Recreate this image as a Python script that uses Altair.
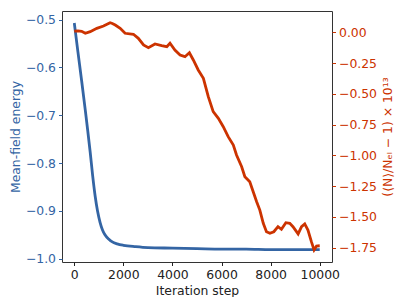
import altair as alt
import pandas as pd

# Mean-field energy (left axis)
steps_e = [0, 150, 300, 450, 550, 650, 750, 850, 950, 1050, 1150, 1250, 1400,
           1550, 1750, 2000, 2500, 3000, 4000, 5000, 6000, 7000, 8000, 9000, 10000]
energy = [-0.507, -0.568, -0.628, -0.690, -0.733, -0.778, -0.827, -0.869, -0.901,
          -0.924, -0.940, -0.950, -0.959, -0.965, -0.969, -0.972, -0.975, -0.977,
          -0.978, -0.979, -0.980, -0.980, -0.981, -0.981, -0.981]

# Particle-number deviation (right axis)
steps_n = [0, 150, 300, 450, 650, 920, 1190, 1460, 1550, 1670, 1870, 2070, 2410,
           2610, 2820, 3020, 3290, 3560, 3770, 3900, 4100, 4310, 4510, 4690, 4850,
           5050, 5260, 5460, 5660, 5870, 6070, 6270, 6480, 6610, 6820, 6950, 7150,
           7290, 7430, 7560, 7700, 7830, 7970, 8130, 8300, 8440, 8620, 8780, 8910,
           9120, 9260, 9390, 9520, 9660, 9770, 9870, 10000]
deviation = [0.010, 0.012, 0.008, -0.008, 0.005, 0.032, 0.051, 0.078, 0.072, 0.059,
             0.032, -0.008, -0.016, -0.049, -0.103, -0.125, -0.095, -0.109, -0.117,
             -0.089, -0.144, -0.184, -0.198, -0.166, -0.225, -0.306, -0.374, -0.523,
             -0.645, -0.699, -0.767, -0.848, -0.916, -0.997, -1.092, -1.173, -1.214,
             -1.295, -1.376, -1.444, -1.552, -1.620, -1.633, -1.620, -1.579, -1.600,
             -1.547, -1.552, -1.579, -1.638, -1.579, -1.557, -1.606, -1.701, -1.768,
             -1.736, -1.734]

x_ticks = [0, 2000, 4000, 6000, 8000, 10000]
left_ticks = [-1.0, -0.9, -0.8, -0.7, -0.6, -0.5]
right_ticks = [0.0, -0.25, -0.5, -0.75, -1.0, -1.25, -1.5, -1.75]

df_e = pd.DataFrame({"step": steps_e, "energy": energy})
df_n = pd.DataFrame({"step": steps_n, "dev": deviation})

BLUE = "#3465a4"
RED = "#cc3300"
FONT = "DejaVu Sans"
FS = 12.4

x_enc = alt.X(
    "step:Q",
    scale=alt.Scale(domain=[-500, 10500], nice=False, zero=False),
    axis=alt.Axis(title="Iteration step", values=x_ticks, format="d",
                  domain=False, grid=False, tickSize=3.5, tickColor="#222",
                  labelColor="#222", titleColor="#222", labelPadding=3,
                  titlePadding=4, labelFont=FONT, titleFont=FONT,
                  labelFontSize=FS, titleFontSize=FS, titleFontWeight="normal"),
)

blue = alt.Chart(df_e).mark_line(color=BLUE, strokeWidth=2.8, interpolate="monotone").encode(
    x=x_enc,
    y=alt.Y("energy:Q",
            scale=alt.Scale(domain=[-1.007, -0.482], nice=False, zero=False),
            axis=alt.Axis(title="Mean-field energy", orient="left", values=left_ticks,
                          format=".1f", domain=False, grid=False, tickSize=3.5,
                          tickColor=BLUE, labelColor=BLUE, titleColor=BLUE,
                          labelPadding=3, titlePadding=3, labelFont=FONT,
                          titleFont=FONT, labelFontSize=FS, titleFontSize=FS,
                          titleFontWeight="normal")),
)

red = alt.Chart(df_n).mark_line(color=RED, strokeWidth=2.8).encode(
    x=alt.X("step:Q", scale=alt.Scale(domain=[-500, 10500], nice=False, zero=False)),
    y=alt.Y("dev:Q",
            scale=alt.Scale(domain=[-1.866, 0.173], nice=False, zero=False),
            axis=alt.Axis(title="(⟨N⟩/Nₑₗ − 1) × 10¹³", orient="right",
                          values=right_ticks, format=".2f", domain=False, grid=False,
                          tickSize=3.5, tickColor=RED, labelColor=RED, titleColor=RED,
                          labelPadding=3, titlePadding=5, titleAngle=270,
                          titleBaseline="top", labelFont=FONT, titleFont=FONT,
                          labelFontSize=FS, titleFontSize=FS,
                          titleFontWeight="normal")),
)

chart = alt.layer(blue, red).resolve_scale(y="independent").properties(
    width=270,
    height=251,
    autosize=alt.AutoSizeParams(type="none"),
    padding={"left": 54, "top": 3, "right": 67, "bottom": 35},
    background="white",
).configure_view(stroke="#333", strokeWidth=1)

chart.save("out.html", embed_options={"renderer": "svg", "actions": False})
